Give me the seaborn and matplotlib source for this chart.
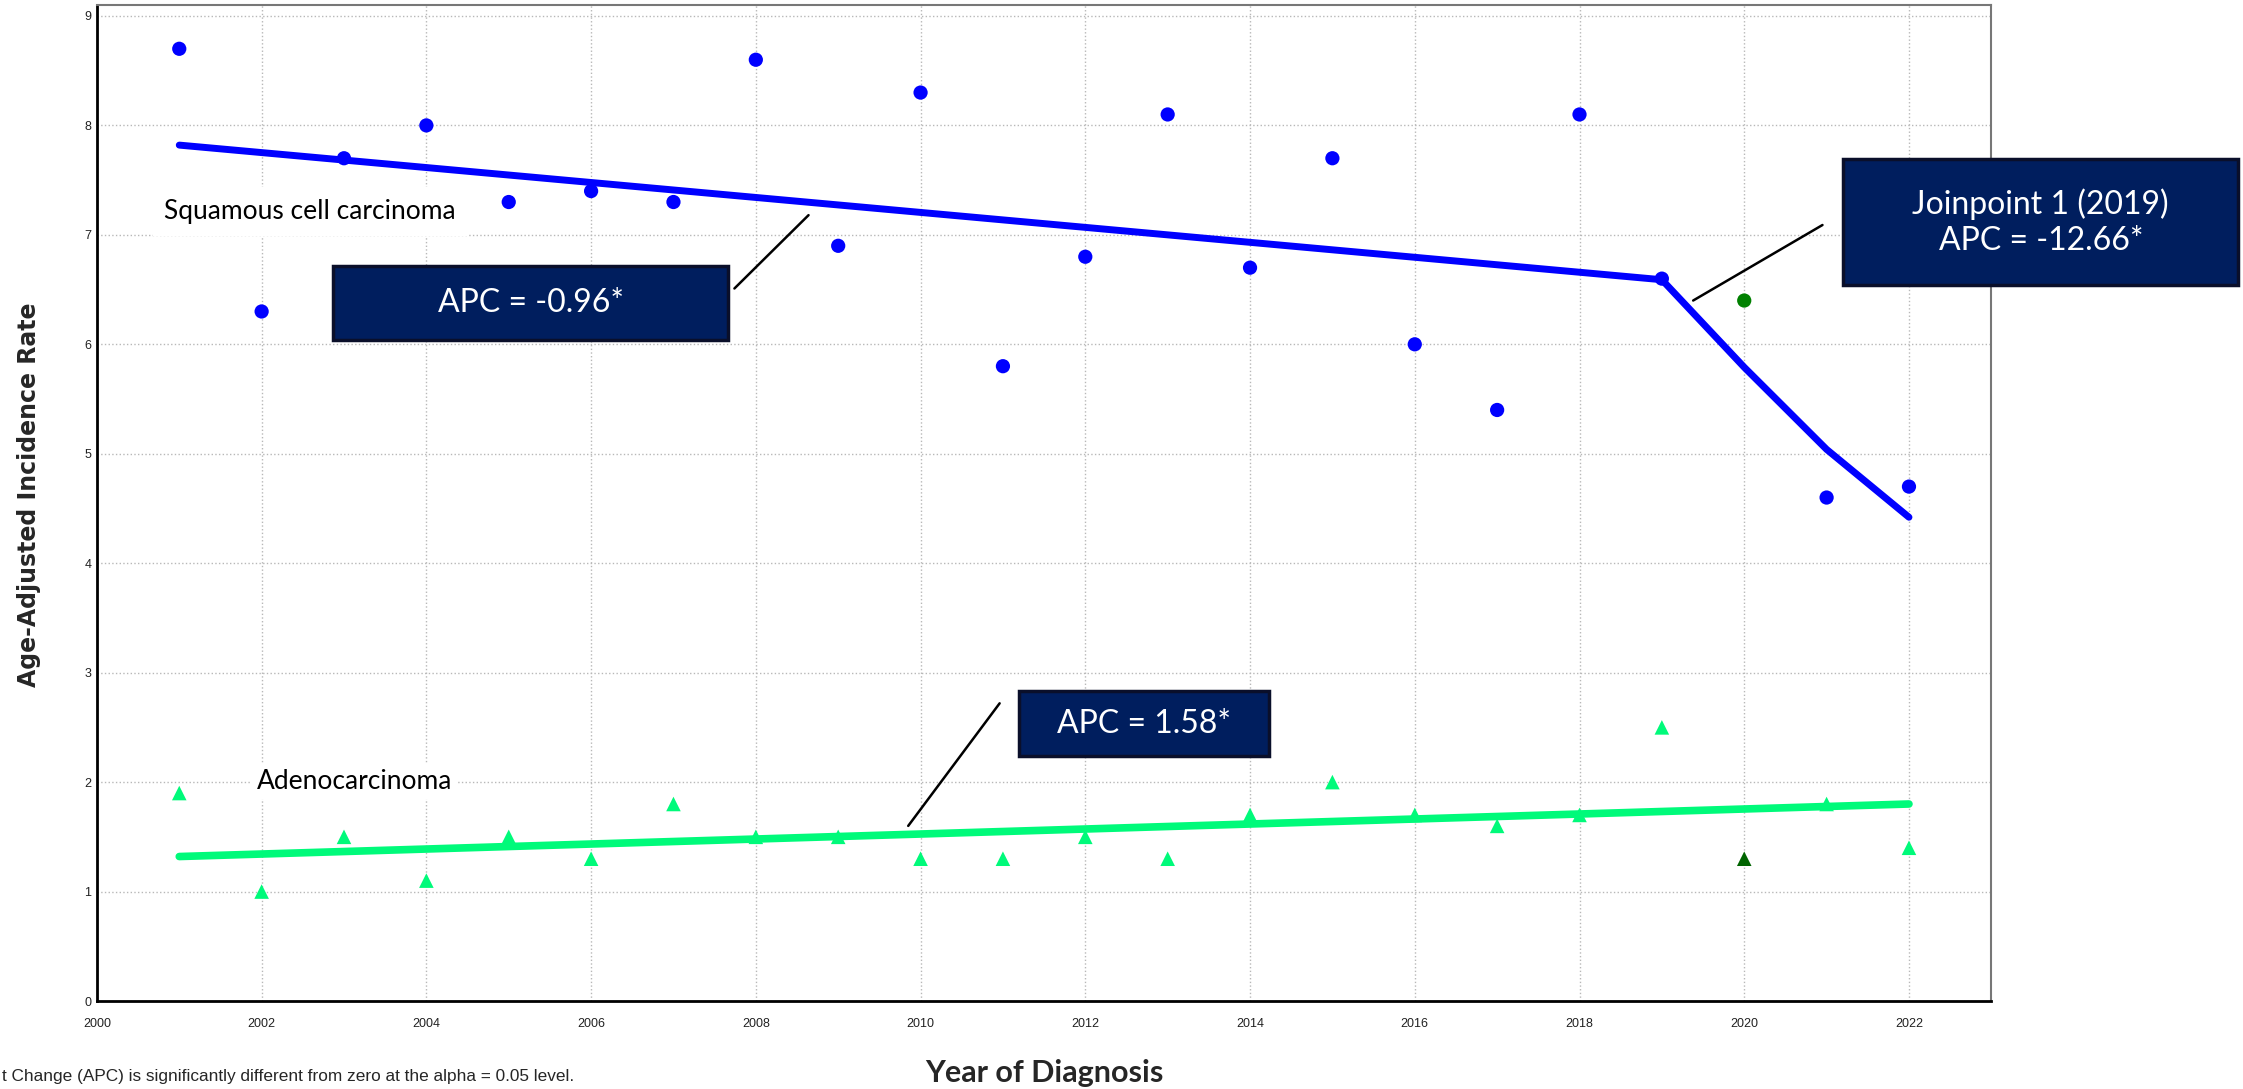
import matplotlib
matplotlib.use("Agg")
import matplotlib.pyplot as plt
import numpy as np
import pandas as pd
import seaborn as sns
from matplotlib.patches import Rectangle

# observed age-adjusted rates
years = list(range(2001, 2023))
squamous_rate = [8.7, 6.3, 7.7, 8.0, 7.3, 7.4, 7.3, 8.6, 6.9, 8.3, 5.8,
                 6.8, 8.1, 6.7, 7.7, 6.0, 5.4, 8.1, 6.6, 6.4, 4.6, 4.7]
adeno_rate = [1.9, 1.0, 1.5, 1.1, 1.5, 1.3, 1.8, 1.5, 1.5, 1.3, 1.3,
              1.5, 1.3, 1.7, 2.0, 1.7, 1.6, 1.7, 2.5, 1.3, 1.8, 1.4]
excluded_year = 2020

# joinpoint fitted values
squamous_fit_years = [2001, 2019, 2020, 2021, 2022]
squamous_fit = [7.82, 6.59, 5.79, 5.04, 4.42]
adeno_fit_years = [2001, 2022]
adeno_fit = [1.32, 1.80]

x_ticks = list(range(2000, 2023, 2))
y_ticks = list(range(0, 10))

BLUE = "#0000FF"
GREEN = "#00FA7A"
NAVY = "#001E5E"

obs = pd.DataFrame({"year": years, "squamous": squamous_rate, "adeno": adeno_rate})
keep = obs[obs["year"] != excluded_year]
drop = obs[obs["year"] == excluded_year]
sq_fit_df = pd.DataFrame({"year": squamous_fit_years, "rate": squamous_fit})
ad_fit_df = pd.DataFrame({"year": adeno_fit_years, "rate": adeno_fit})

sns.set_style("white")
fig = plt.figure(figsize=(22.43, 10.89), dpi=100)
ax = fig.add_axes([0.0432, 0.0808, 0.8446, 0.9146])

ax.set_xlim(2000, 2023)
ax.set_ylim(0, 9.1)
ax.set_xticks(x_ticks)
ax.set_yticks(y_ticks)
ax.grid(True, color="#b8b8b8", linestyle=":", linewidth=1.0)
ax.set_axisbelow(True)

sns.lineplot(data=sq_fit_df, x="year", y="rate", color=BLUE, linewidth=5,
             ax=ax, zorder=3)
sns.lineplot(data=ad_fit_df, x="year", y="rate", color=GREEN, linewidth=5.5,
             ax=ax, zorder=3)

sns.scatterplot(data=keep, x="year", y="squamous", color=BLUE, marker="o",
                s=105, edgecolor="none", ax=ax, zorder=4)
sns.scatterplot(data=drop, x="year", y="squamous", color="#008000", marker="o",
                s=105, edgecolor="none", ax=ax, zorder=4)
sns.scatterplot(data=keep, x="year", y="adeno", color=GREEN, marker="^",
                s=110, edgecolor="none", ax=ax, zorder=4)
sns.scatterplot(data=drop, x="year", y="adeno", color="#006400", marker="^",
                s=110, edgecolor="none", ax=ax, zorder=4)

ax.set_xlabel("")
ax.set_ylabel("")
ax.tick_params(axis="both", length=0, labelsize=9, colors="#222222")
ax.tick_params(axis="x", pad=12)
ax.tick_params(axis="y", pad=4)
for lab in ax.get_xticklabels() + ax.get_yticklabels():
    lab.set_family("Liberation Sans")

for side in ["left", "bottom"]:
    ax.spines[side].set_color("black")
    ax.spines[side].set_linewidth(2)
for side in ["top", "right"]:
    ax.spines[side].set_color("#777777")
    ax.spines[side].set_linewidth(1.5)

# series labels
label_font = dict(family="Lato", fontsize=19, color="black")
ax.text(2002.59, 7.21, "Squamous cell carcinoma", ha="center", va="center",
        bbox=dict(boxstyle="square,pad=0.45", fc="white", ec="none"),
        zorder=5, **label_font)
ax.text(2003.13, 2.01, "Adenocarcinoma", ha="center", va="center",
        bbox=dict(boxstyle="square,pad=0.2", fc="white", ec="none"),
        zorder=5, **label_font)

# APC boxes with leader lines
boxes = [
    (2002.87, 6.04, 2007.66, 6.72, "APC = -0.96*"),
    (2021.20, 6.54, 2026.00, 7.69, "Joinpoint 1 (2019)\nAPC = -12.66*"),
    (2011.20, 2.24, 2014.23, 2.83, "APC = 1.58*"),
]
for x0, y0, x1, y1, txt in boxes:
    rect = Rectangle((x0, y0), x1 - x0, y1 - y0, facecolor=NAVY,
                     edgecolor="#0a0f2a", linewidth=2.5, zorder=6, clip_on=False)
    ax.add_patch(rect)
    ax.text((x0 + x1) / 2, (y0 + y1) / 2, txt, ha="center", va="center",
            color="white", family="Lato", fontsize=23, linespacing=1.25,
            zorder=7, clip_on=False)

leaders = [
    ((2007.74, 2008.64), (6.51, 7.18)),
    ((2019.38, 2020.95), (6.40, 7.09)),
    ((2009.85, 2010.96), (1.60, 2.72)),
]
for lx, ly in leaders:
    ax.plot(lx, ly, color="black", linewidth=1.8, zorder=6)

fig.text(29 / 2243, 1 - 495 / 1089, "Age-Adjusted Incidence Rate",
         rotation=90, ha="center", va="center", family="DejaVu Sans",
         fontweight="bold", fontsize=17)
fig.text(1044 / 2243, 1 - 1073 / 1089, "Year of Diagnosis", ha="center",
         va="center", family="Lato", fontweight="bold", fontsize=22)
# footnote: only the visible part of the original (cut at the left edge)
fig.text(2 / 2243, 1 - 1076 / 1089,
         "t Change (APC) is significantly different from zero at the alpha = 0.05 level.",
         ha="left", va="center", family="Liberation Sans", fontsize=12.4)

fig.savefig("out.png", dpi=100)
